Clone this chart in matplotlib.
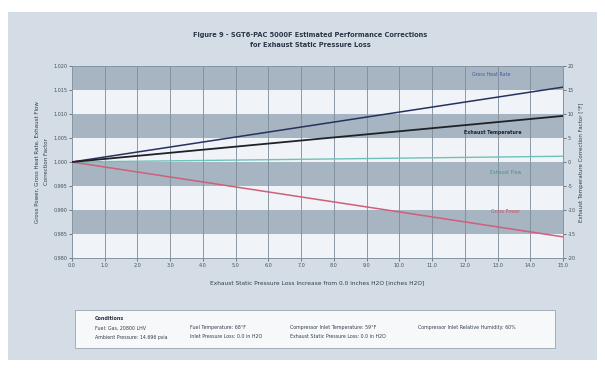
import numpy as np
import matplotlib
matplotlib.use("Agg")
import matplotlib.pyplot as plt
from matplotlib.patches import Rectangle

# Exhaust static pressure loss increase [inches H2O]
pressure = [0.0, 15.0]
x_ticks = [0.0, 1.0, 2.0, 3.0, 4.0, 5.0, 6.0, 7.0, 8.0, 9.0, 10.0, 11.0, 12.0, 13.0, 14.0, 15.0]

# Correction factors (left axis)
heat_rate = [1.000, 1.0156]
exhaust_flow = [1.000, 1.0012]
gross_power = [1.000, 0.9844]
# Exhaust temperature correction [°F] (right axis)
exhaust_temp = [0.0, 9.6]

y_ticks = [0.980, 0.985, 0.990, 0.995, 1.000, 1.005, 1.010, 1.015, 1.020]
y2_ticks = [-20, -15, -10, -5, 0, 5, 10, 15, 20]

title_1 = "Figure 9 - SGT6-PAC 5000F Estimated Performance Corrections"
title_2 = "for Exhaust Static Pressure Loss"
x_label = "Exhaust Static Pressure Loss Increase from 0.0 inches H2O [inches H2O]"
y_label = "Gross Power, Gross Heat Rate, Exhaust Flow\nCorrection Factor"
y2_label = "Exhaust Temperature Correction Factor [°F]"
conditions = [
    ["Fuel: Gas, 20800 LHV", "Fuel Temperature: 68°F", "Compressor Inlet Temperature: 59°F",
     "Compressor Inlet Relative Humidity: 60%"],
    ["Ambient Pressure: 14.696 psia", "Inlet Pressure Loss: 0.0 in H2O",
     "Exhaust Static Pressure Loss: 0.0 in H2O", ""],
]

W, H = 605, 368
fig = plt.figure(figsize=(W / 100, H / 100), dpi=100)
fig.patch.set_facecolor("white")

# light panel behind everything
fig.patches.append(Rectangle((8 / W, 1 - 360 / H), 589 / W, 348 / H,
                             transform=fig.transFigure, facecolor="#d4dde5",
                             edgecolor="none", zorder=-5))

ax = fig.add_axes([72 / W, 1 - 258 / H, 491 / W, 192 / H])
ax.set_facecolor("#f0f3f7")
ax.set_xlim(0, 15)
ax.set_ylim(0.980, 1.020)

# alternating horizontal bands
for i in range(len(y_ticks) - 1):
    if i % 2 == 1:
        ax.axhspan(y_ticks[i], y_ticks[i + 1], facecolor="#a6b5c1", edgecolor="none", zorder=0)

for xv in x_ticks[1:-1]:
    ax.axvline(xv, color="#7d8c99", lw=0.6, zorder=1)

ax.plot(pressure, heat_rate, color="#27325e", lw=1.1, zorder=3)
ax.plot(pressure, exhaust_flow, color="#6fc2b8", lw=1.0, zorder=3)
ax.plot(pressure, gross_power, color="#cf5f7a", lw=1.1, zorder=3)

ax2 = ax.twinx()
ax2.set_ylim(-20, 20)
ax2.plot(pressure, exhaust_temp, color="#1e2228", lw=1.3, zorder=3)

ax.set_xticks(x_ticks)
ax.set_xticklabels([f"{v:.1f}" for v in x_ticks])
ax.set_yticks(y_ticks)
ax.set_yticklabels([f"{v:.3f}" for v in y_ticks])
ax2.set_yticks(y2_ticks)
ax2.set_yticklabels([str(v) for v in y2_ticks])

for a in (ax, ax2):
    a.tick_params(labelsize=3.5, colors="#46515c", length=2, width=0.5, pad=1.5)
    for s in a.spines.values():
        s.set_color("#8795a2")
        s.set_linewidth(0.6)

ax.set_xlabel(x_label, fontsize=4.2, color="#333e4a", labelpad=9)
ax.set_ylabel(y_label, fontsize=4.0, color="#333e4a", labelpad=3, linespacing=2.0)
ax2.set_ylabel(y2_label, fontsize=4.0, color="#333e4a", labelpad=2)

# line labels
ax.text(12.8, 1.0183, "Gross Heat Rate", fontsize=3.4, color="#4a58a0", ha="center", va="center")
ax.text(12.85, 1.0062, "Exhaust Temperature", fontsize=3.4, color="#1e2228", ha="center",
        va="center", fontweight="bold")
ax.text(13.25, 0.9979, "Exhaust Flow", fontsize=3.4, color="#4f8f8a", ha="center", va="center")
ax.text(13.25, 0.9896, "Gross Power", fontsize=3.4, color="#d0506a", ha="center", va="center")

fig.text(310 / W, 1 - 35 / H, title_1, fontsize=4.8, color="#2a3646", ha="center",
         va="center", fontweight="bold")
fig.text(310 / W, 1 - 45 / H, title_2, fontsize=4.8, color="#2a3646", ha="center",
         va="center", fontweight="bold")

# conditions box
fig.patches.append(Rectangle((75 / W, 1 - 348 / H), 480 / W, 38 / H,
                             transform=fig.transFigure, facecolor="#f6f8fa",
                             edgecolor="#98a4b0", lw=0.6, zorder=1))
fig.text(95 / W, 1 - 318 / H, "Conditions", fontsize=3.5, color="#2a3646",
         fontweight="bold", va="center")
col_x = [95, 190, 290, 418]
row_y = [328, 337]
for r, row in enumerate(conditions):
    for c, txt in enumerate(row):
        if txt:
            fig.text(col_x[c] / W, 1 - row_y[r] / H, txt, fontsize=3.4,
                     color="#333e4a", va="center")

fig.savefig("out.png", dpi=100, facecolor=fig.get_facecolor())
